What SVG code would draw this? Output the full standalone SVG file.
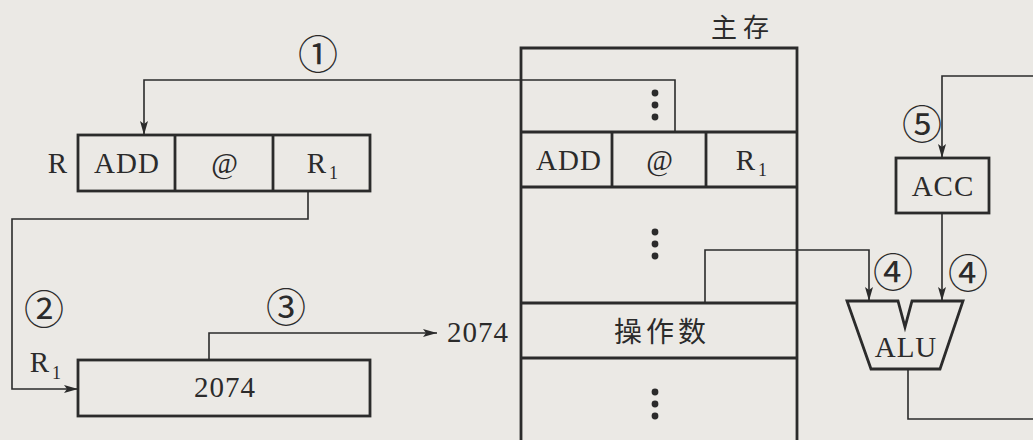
<svg xmlns="http://www.w3.org/2000/svg" width="1033" height="440" viewBox="0 0 1033 440">
<defs>
<marker id="arr" markerWidth="15" markerHeight="9" refX="14" refY="4" orient="auto" markerUnits="userSpaceOnUse">
<path d="M0,0 L14,4 L0,8 L3,4 z" fill="#2b2b2b"/>
</marker>
<style>
.box{fill:none;stroke:#2b2b2b;stroke-width:2.8}
.ln{fill:none;stroke:#2b2b2b;stroke-width:1.6}
.t{font-family:"Liberation Serif","Times New Roman",serif;font-size:29px;fill:#2b2b2b;text-anchor:middle;letter-spacing:1px}
.s{font-family:"Liberation Serif","Times New Roman",serif;font-size:18px;fill:#2b2b2b}
.c{font-family:"Noto Sans CJK SC",sans-serif;font-size:28px;fill:#2b2b2b;text-anchor:middle}
.n{font-family:"Noto Sans CJK SC",sans-serif;font-size:40px;fill:#2b2b2b;text-anchor:middle;dominant-baseline:central}
.dot{fill:#2b2b2b}
</style>
</defs>
<rect width="1033" height="440" fill="#ebe9e5"/>

<g id="regR">
<rect class="box" x="78" y="135" width="292" height="56"/>
<line class="box" x1="175" y1="135" x2="175" y2="191"/>
<line class="box" x1="273" y1="135" x2="273" y2="191"/>
<text class="t" x="58" y="173">R</text>
<text class="t" x="127" y="173">ADD</text>
<text class="t" x="225" y="173">@</text>
<text class="t" x="317" y="173">R</text>
<text class="s" x="329" y="179">1</text>
</g>

<g id="regR1">
<rect class="box" x="78" y="360" width="292" height="56"/>
<text class="t" x="225" y="397">2074</text>
<text class="t" x="40" y="372">R</text>
<text class="s" x="52" y="379">1</text>
</g>

<g id="mem">
<text class="c" x="743" y="37" style="font-size:26px;letter-spacing:6px">主存</text>
<path class="box" d="M521,442 V48 H797 V442"/>
<line class="box" x1="521" y1="132" x2="797" y2="132"/>
<line class="box" x1="521" y1="187" x2="797" y2="187"/>
<line class="box" x1="612" y1="132" x2="612" y2="187"/>
<line class="box" x1="706" y1="132" x2="706" y2="187"/>
<line class="box" x1="521" y1="303" x2="797" y2="303"/>
<line class="box" x1="521" y1="358" x2="797" y2="358"/>
<circle class="dot" cx="655" cy="93" r="3.4"/><circle class="dot" cx="655" cy="105" r="3.4"/><circle class="dot" cx="655" cy="117" r="3.4"/>
<text class="t" x="569" y="170">ADD</text>
<text class="t" x="660" y="170">@</text>
<text class="t" x="746" y="170">R</text>
<text class="s" x="758" y="176">1</text>
<circle class="dot" cx="655" cy="232" r="3.4"/><circle class="dot" cx="655" cy="244" r="3.4"/><circle class="dot" cx="655" cy="256" r="3.4"/>
<text class="c" x="662" y="342" style="letter-spacing:4px">操作数</text>
<circle class="dot" cx="655" cy="392" r="3.4"/><circle class="dot" cx="655" cy="404" r="3.4"/><circle class="dot" cx="655" cy="416" r="3.4"/>
</g>

<g id="acc">
<rect class="box" x="896" y="158" width="93" height="55"/>
<text class="t" x="943" y="196">ACC</text>
</g>

<g id="alu">
<polygon class="box" points="847,301 898,301 905,327 912,301 963,301 940,369 871,369"/>
<text class="t" x="906" y="357">ALU</text>
</g>

<g id="labels">
<text class="n" x="318" y="52">①</text>
<text class="n" x="44" y="307">②</text>
<text class="n" x="286" y="305">③</text>
<text class="n" x="893" y="270">④</text>
<text class="n" x="968" y="271">④</text>
<text class="n" x="922" y="122">⑤</text>
<text class="t" x="478" y="342">2074</text>
</g>

<g id="connectors">
<path class="ln" d="M675,132 V80 H144 V135" marker-end="url(#arr)"/>
<path class="ln" d="M308,191 V219 H12 V389 H78" marker-end="url(#arr)"/>
<path class="ln" d="M209,360 V333 H437" marker-end="url(#arr)"/>
<path class="ln" d="M705,303 V250 H869 V301" marker-end="url(#arr)"/>
<path class="ln" d="M942,213 V301" marker-end="url(#arr)"/>
<path class="ln" d="M1035,76 H942 V158" marker-end="url(#arr)"/>
<path class="ln" d="M908,369 V419 H1035"/>
</g>
</svg>
